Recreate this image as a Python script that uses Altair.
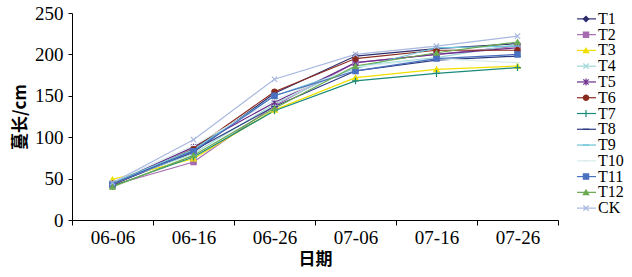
import altair as alt
import pandas as pd

dates = ["06-06", "06-16", "06-26", "07-06", "07-16", "07-26"]
series_names = ["T1", "T2", "T3", "T4", "T5", "T6", "T7", "T8", "T9", "T10", "T11", "T12", "CK"]

T1 = [43, 82, 153, 198, 207, 213]
T2 = [42, 70, 138, 190, 200, 210]
T3 = [49, 74, 133, 172, 182, 186]
T4 = [45, 80, 140, 186, 196, 212]
T5 = [44, 88, 142, 190, 200, 208]
T6 = [42, 86, 155, 195, 205, 205]
T7 = [41, 76, 132, 168, 177, 184]
T8 = [44, 84, 137, 180, 193, 198]
T9 = [45, 85, 150, 183, 208, 210]
T10 = [46, 90, 145, 185, 195, 190]
T11 = [43, 83, 150, 180, 195, 200]
T12 = [40, 78, 135, 186, 202, 215]
CK = [45, 97, 170, 200, 210, 222]

colors = ["#2E2E6E", "#A66BB0", "#F0E000", "#9ED8D8", "#6B2C8B", "#8B2A1E",
          "#1A8A7A", "#2A3A80", "#6CC4D8", "#D8ECEC", "#4A70C0", "#6AAA50", "#A8B8E0"]
shapes = ["diamond", "square", "triangle-up",
          "M-1,-1L1,1M-1,1L1,-1",
          "M-1,-1L1,1M-1,1L1,-1M0,-1.3L0,1.3",
          "circle",
          "M-1.3,0L1.3,0M0,-1.3L0,1.3",
          "M-1.2,0L1.2,0",
          "M-1.2,0L1.2,0",
          "M-1,0L1,0",
          "square", "triangle-up",
          "M-1,-1L1,1M-1,1L1,-1"]

SERIF = "Liberation Serif"
CJK = "Noto Sans CJK SC"

all_vals = [T1, T2, T3, T4, T5, T6, T7, T8, T9, T10, T11, T12, CK]
rows = []
for name, vals in zip(series_names, all_vals):
    for d, v in zip(dates, vals):
        rows.append({"date": d, "series": name, "value": v})
df = pd.DataFrame(rows)
legend_df = pd.DataFrame({"series": series_names})

color_scale = alt.Scale(domain=series_names, range=colors)
shape_scale = alt.Scale(domain=series_names, range=shapes)

x_enc = alt.X(
    "date:O",
    scale=alt.Scale(type="band", domain=dates, paddingInner=0, paddingOuter=0),
    axis=alt.Axis(
        title="日期", labelAngle=0, tickBand="extent", tickSize=5,
        labelPadding=3, titlePadding=4,
        labelFont=SERIF, labelFontSize=19, labelColor="black",
        titleFont=CJK, titleFontSize=17, titleFontWeight="bold",
        titleColor="black", domainColor="black", tickColor="black", grid=False,
    ),
)
y_enc = alt.Y(
    "value:Q",
    scale=alt.Scale(domain=[0, 250]),
    axis=alt.Axis(
        values=[0, 50, 100, 150, 200, 250], title="蔓长/cm", tickSize=4,
        labelPadding=5, titlePadding=5,
        labelFont=SERIF, labelFontSize=19, labelColor="black",
        titleFont=CJK, titleFontSize=17, titleFontWeight="bold",
        titleColor="black", domainColor="black", tickColor="black", grid=False,
    ),
)

color_enc = alt.Color("series:N", scale=color_scale, legend=None)
stroke_enc = alt.Stroke("series:N", scale=color_scale, legend=None)
shape_enc = alt.Shape("series:N", scale=shape_scale, legend=None)

lines = alt.Chart(df).mark_line(strokeWidth=1.2).encode(
    x=x_enc, y=y_enc, color=color_enc
)
points = alt.Chart(df).mark_point(filled=True, size=28, strokeWidth=1.2, opacity=1).encode(
    x=x_enc, y=y_enc, color=color_enc, stroke=stroke_enc, shape=shape_enc
)

ly = alt.Y("series:N", scale=alt.Scale(domain=series_names, range=[-2, 203], padding=0), axis=None)

leg_rule = alt.Chart(legend_df).mark_rule(strokeWidth=1.2).encode(
    y=ly, x=alt.value(505), x2=alt.value(524), color=color_enc
)
leg_pts = alt.Chart(legend_df).mark_point(filled=True, size=28, strokeWidth=1.2, opacity=1).encode(
    y=ly, x=alt.value(514), color=color_enc, stroke=stroke_enc, shape=shape_enc
)
leg_text = alt.Chart(legend_df).mark_text(
    align="left", baseline="middle", font=SERIF, fontSize=16, color="black"
).encode(y=ly, x=alt.value(526), text="series:N")

chart = alt.layer(
    alt.layer(lines, points),
    alt.layer(leg_rule, leg_pts, leg_text),
).resolve_scale(y="independent").properties(
    width=486, height=207,
    padding={"left": 72, "top": 13, "right": 74, "bottom": 57},
    autosize=alt.AutoSizeParams(type="none"),
    background="white",
).configure_view(stroke=None)

chart.save("out.html", embed_options={"renderer": "svg", "actions": False})
